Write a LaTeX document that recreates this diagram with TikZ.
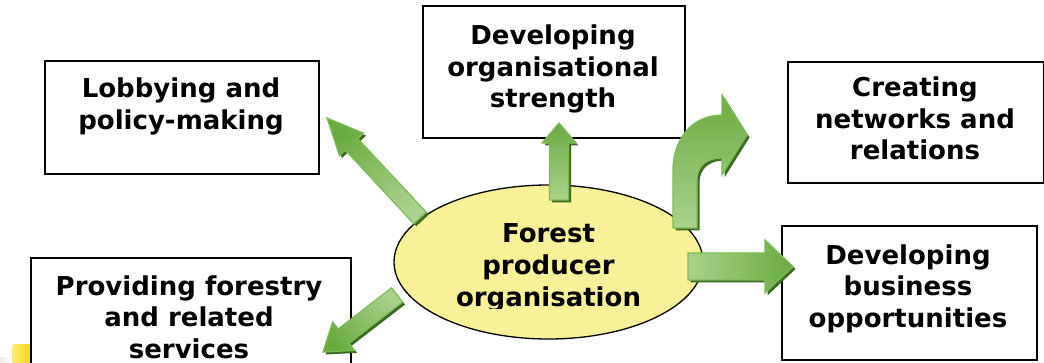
\documentclass[tikz,border=0pt]{standalone}
\usepackage{fontspec}
\setmainfont{DejaVu Sans}
\usetikzlibrary{shapes.geometric,calc}
\definecolor{gmid}{HTML}{6AAB40}
\definecolor{glight}{HTML}{A9D38C}
\definecolor{gedge}{HTML}{7BBD55}
\definecolor{gshadow}{HTML}{3D6B24}
\definecolor{ellfill}{HTML}{F8F197}
\definecolor{ylwa}{HTML}{FFE97A}
\definecolor{ylwb}{HTML}{FFD200}
\tikzset{
  box/.style={draw=black, line width=1.6pt, fill=white, inner sep=0pt, anchor=north west},
  lbl/.style={font=\fontsize{26}{31.5}\selectfont\bfseries, align=center, anchor=base, inner sep=0pt},
  arrowfill/.style={draw=gedge, line width=1.2pt, line join=miter, top color=gmid, bottom color=glight},
  arrowshadow/.style={fill=gshadow},
}
\newcommand\gstraight[6]{%
  \coordinate (hb) at ($(#2)!#5pt!(#1)$);
  \def\gp{($(#1)!#3pt!90:(#2)$) -- ($(hb)!#3pt!90:(#2)$) -- ($(hb)!#4pt!90:(#2)$) -- (#2) -- ($(hb)!#4pt!-90:(#2)$) -- ($(hb)!#3pt!-90:(#2)$) -- ($(#1)!#3pt!-90:(#2)$) -- cycle}%
  \path[arrowshadow, transform canvas={shift={(2.5,2.5)}}] \gp;
  \path[arrowfill, shading angle=#6] \gp;
}
\begin{document}
\begin{tikzpicture}[x=1pt, y=-1pt]
\useasboundingbox (0,0) rectangle (1044,363);
% small decoration bottom left
\path[left color=gray!15, right color=white] (0,357) rectangle (12,364);
\path[left color=ylwa, right color=ylwb, rounded corners=3pt] (12,344) rectangle (34,368);
% boxes
\node[box, minimum width=274, minimum height=113] (lob) at (44,60) {};
\node[box, minimum width=262, minimum height=132] (org) at (422,5) {};
\node[box, minimum width=256, minimum height=121] (cre) at (787,61) {};
\node[box, minimum width=255, minimum height=134] (bus) at (781,225) {};
\node[box, minimum width=320, minimum height=120] (pro) at (30,257) {};
% central ellipse
\node[ellipse, draw=black, line width=1.3pt, fill=ellfill, minimum width=309, minimum height=154, inner sep=0pt] (fpo) at (548.5,262) {};
\begin{scope}
  \clip (380,180) rectangle (720,309);
  \node[lbl] (fpotxt) at (548.5,306) {Forest\\producer\\organisation};
\end{scope}
% connector end points
\coordinate (tLob) at (420,218);  \coordinate (pLob) at (327,118);
\coordinate (tOrg) at (559,200);  \coordinate (pOrg) at (559,123);
\coordinate (tBus) at (688,266.5); \coordinate (pBus) at (793,266.5);
\coordinate (tPro) at (397,295);  \coordinate (pPro) at (323,352);
% straight arrows
\gstraight{tLob}{pLob}{8.5}{16.5}{36}{43}
\gstraight{tOrg}{pOrg}{9.5}{17}{20}{0}
\gstraight{tBus}{pBus}{13.5}{26.5}{28}{-90}
\gstraight{tPro}{pPro}{9}{18}{26}{128}
% bent arrow towards "Creating networks and relations"
\def\bentpath{(673,228) -- (673,170) .. controls (673,138) and (693,115) .. (722,115) -- (722,95) -- (747,135) -- (722,175) -- (722,158) .. controls (707,158) and (697,166) .. (697,180) -- (697,228) -- cycle}
\path[arrowshadow, transform canvas={shift={(2.5,2.5)}}] \bentpath;
\path[arrowfill] \bentpath;
% labels
\node[lbl] (lobtxt) at (181,129.5) {Lobbying and\\policy-making};
\node[lbl] (orgtxt) at (553,108) {Developing\\organisational\\strength};
\node[lbl] (cretxt) at (915,160) {Creating\\networks and\\relations};
\node[lbl] (bustxt) at (908,327) {Developing\\business\\opportunities};
\node[lbl] (protxt) at (189,358) {Providing forestry\\and related\\services};
\end{tikzpicture}
\end{document}
